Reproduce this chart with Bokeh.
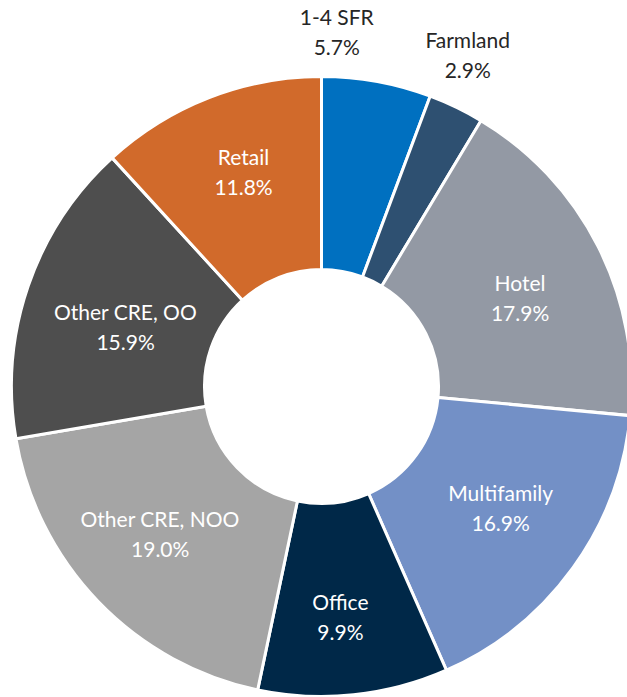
import numpy as np
from bokeh.plotting import figure
from bokeh.models import Range1d, ColumnDataSource
from bokeh.core.properties import value
from bokeh.embed import file_html
from bokeh.resources import INLINE

categories = ["1-4 SFR", "Farmland", "Hotel", "Multifamily", "Office",
              "Other CRE, NOO", "Other CRE, OO", "Retail"]
shares = [5.7, 2.9, 17.9, 16.9, 9.9, 19.0, 15.9, 11.8]
pct_labels = ["5.7%", "2.9%", "17.9%", "16.9%", "9.9%", "19.0%", "15.9%", "11.8%"]

colors = ["#0070C0", "#2E5071", "#9399A4", "#7390C6", "#002848",
          "#A5A5A5", "#4E4E4E", "#D16A2B"]
label_colors = ["#262626", "#262626", "white", "white", "white", "white", "white", "white"]

W, H = 627, 697
CX, CY = 321, H - 386
R_OUT, R_IN = 310, 117

vals = np.array(shares)
frac = vals / vals.sum()
cum = np.concatenate([[0], np.cumsum(frac)])
start = np.pi / 2 - 2 * np.pi * cum[:-1]
end = np.pi / 2 - 2 * np.pi * cum[1:]
mid = (start + end) / 2

# label radius / nudges (style)
lab_r = np.array([355, 362, 218, 216, 231, 217, 205, 229], dtype=float)
nudge_x = np.array([-48, -11, 4, 4, -5, -5, -2, 5], dtype=float)
nudge_y = np.array([6, 6, -9, 5, 0, 4, -6, 2], dtype=float)
lx = CX + lab_r * np.cos(mid) + nudge_x
ly = CY + lab_r * np.sin(mid) + nudge_y

src = ColumnDataSource(dict(cat=categories, pct=pct_labels, start=start, end=end,
                            color=colors, lcolor=label_colors,
                            lx=lx, ly_top=ly + 15, ly_bot=ly - 15))

p = figure(width=W, height=H, output_backend="svg", toolbar_location=None,
           x_range=Range1d(0, W), y_range=Range1d(0, H),
           min_border=0)
p.axis.visible = False
p.grid.visible = False
p.outline_line_color = None
p.background_fill_color = "white"

p.annular_wedge(x=CX, y=CY, inner_radius=R_IN, outer_radius=R_OUT,
                start_angle="end", end_angle="start", fill_color="color",
                line_color="white", line_width=3, source=src)

font = value("Lato")
p.text(x="lx", y="ly_top", text="cat", text_color="lcolor", text_font=font,
       text_font_size="21px", text_align="center", text_baseline="middle", source=src)
p.text(x="lx", y="ly_bot", text="pct", text_color="lcolor", text_font=font,
       text_font_size="21px", text_align="center", text_baseline="middle", source=src)

open("out.html", "w").write(file_html(p, INLINE))
